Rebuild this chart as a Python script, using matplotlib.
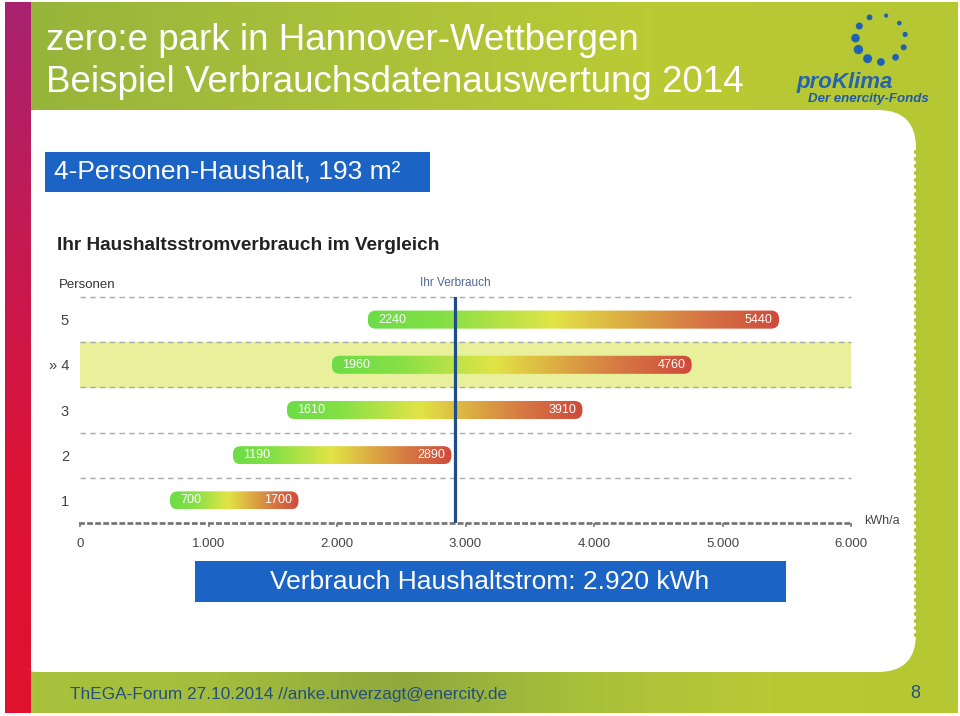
import numpy as np
import matplotlib
matplotlib.use("Agg")
import matplotlib.pyplot as plt
from matplotlib.colors import LinearSegmentedColormap
from matplotlib.patches import FancyBboxPatch, Rectangle, Circle

plt.rcParams['font.family'] = ['Liberation Sans', 'DejaVu Sans']

# data
personen = [1, 2, 3, 4, 5]
personen_labels = ['1', '2', '3', '» 4', '5']
verbrauch_min = [700, 1190, 1610, 1960, 2240]
verbrauch_max = [1700, 2890, 3910, 4760, 5440]
ihr_verbrauch = 2920
haushalt_personen = 4
x_ticks = [0, 1000, 2000, 3000, 4000, 5000, 6000]
x_tick_labels = ['0', '1.000', '2.000', '3.000', '4.000', '5.000', '6.000']

W, H = 960, 716
fig = plt.figure(figsize=(W / 100, H / 100), dpi=100, facecolor='white')

# slide background (pixel coordinates)
bg = fig.add_axes([0, 0, 1, 1])
bg.set_xlim(0, W)
bg.set_ylim(H, 0)
bg.axis('off')

green = LinearSegmentedColormap.from_list('g', ['#97b53c', '#a9c03a', '#b9ca34', '#b6c734'])
bg.imshow(np.linspace(0, 1, 256)[None, :], cmap=green, extent=(30, 958, 713, 2), aspect='auto', zorder=0)
foot = LinearSegmentedColormap.from_list('f', ['#a9c23c', '#a4bd3c', '#8fa93d', '#a9c03a', '#b8c935', '#b6c734'])
bg.imshow(np.linspace(0, 1, 256)[None, :], cmap=foot, extent=(30, 958, 713, 672), aspect='auto', zorder=1)

bg.add_patch(FancyBboxPatch((0, 110), 916, 562, boxstyle='round,pad=0,rounding_size=38',
                            fc='white', ec='none', zorder=2))
# stamp edge
for yy in np.arange(152, 640, 7):
    bg.add_patch(Circle((916, yy), 2.2, fc='#b3c53a', ec='none', zorder=3))

red = LinearSegmentedColormap.from_list('r', ['#a8226f', '#c41a52', '#dc1236', '#e0122e'])
bg.imshow(np.linspace(0, 1, 256)[:, None], cmap=red, extent=(5, 31, 713, 2), aspect='auto', zorder=4)

# title
bg.text(46, 41, 'zero:e park in Hannover-Wettbergen', color='white', fontsize=26.5, va='center', zorder=5)
bg.text(46, 83, 'Beispiel Verbrauchsdatenauswertung 2014', color='white', fontsize=26.5, va='center', zorder=5)

# logo
ang = np.deg2rad([77, 41, 10, -22, -53, -89, -121, -152, 179, 148, 116])
size = [2.1, 2.3, 2.6, 3.0, 3.4, 3.9, 4.5, 4.7, 4.3, 3.5, 2.9]
for a, s in zip(ang, size):
    bg.add_patch(Circle((880.5 + 25 * np.cos(a), 38.5 - 23.5 * np.sin(a)), s, fc='#1f62b5', ec='none', zorder=5))
bg.text(796, 88, 'proKlima', color='#2563ae', fontsize=16, fontweight='bold', style='italic',
        va='baseline', zorder=5)
bg.text(808, 102, 'Der enercity-Fonds', color='#1f5aa8', fontsize=9.5, fontweight='bold', style='italic',
        va='baseline', zorder=5)

# blue info boxes
bg.add_patch(Rectangle((45, 152), 385, 40, fc='#1c63c6', ec='none', zorder=5))
bg.text(54, 172, '4-Personen-Haushalt, 193 m²', color='white', fontsize=19, va='center', zorder=6)
bg.add_patch(Rectangle((195, 561), 591, 41, fc='#1c63c6', ec='none', zorder=5))
bg.text(490, 582, 'Verbrauch Haushaltstrom: %s kWh' % f'{ihr_verbrauch:,}'.replace(',', '.'),
        color='white', fontsize=19, ha='center', va='center', zorder=6)

# chart headings
bg.text(57, 246, 'Ihr Haushaltsstromverbrauch im Vergleich', fontsize=13.7, fontweight='bold',
        color='#222222', va='center', zorder=5)
bg.text(59, 285, 'Personen', fontsize=9.5, color='#333333', va='center', zorder=5)

# footer
bg.text(70, 694, 'ThEGA-Forum 27.10.2014 //anke.unverzagt@enercity.de', fontsize=12.4,
        color='#234f80', va='center', zorder=5)
bg.text(915, 694, '8', fontsize=13, color='#234f80', ha='center', va='center', zorder=5)

# chart
ax = fig.add_axes([80 / W, 1 - 523 / H, 771 / W, 226 / H])
ax.patch.set_alpha(0)

bar_cmap = LinearSegmentedColormap.from_list('bar', [
    (0.0, '#6cdc48'), (0.18, '#84e046'), (0.45, '#e2e446'),
    (0.62, '#dcae42'), (0.8, '#d67844'), (1.0, '#cf4a3c')])

ax.axhspan(haushalt_personen - 0.5, haushalt_personen + 0.5, color='#e9f09b', zorder=0)
for yy in np.arange(1.5, 6, 1):
    ax.axhline(yy, color='#aaaaaa', lw=1, ls=(0, (4, 3)), zorder=1, clip_on=False)

bar_h = 0.4
grad = np.linspace(0, 1, 256)[None, :]
for p, lo, hi in zip(personen, verbrauch_min, verbrauch_max):
    box = FancyBboxPatch((lo, p - bar_h / 2), hi - lo, bar_h,
                         boxstyle='round,pad=0,rounding_size=62', mutation_aspect=0.0029,
                         fc='none', ec='none', zorder=2)
    ax.add_patch(box)
    im = ax.imshow(grad, cmap=bar_cmap, extent=(lo, hi, p - bar_h / 2, p + bar_h / 2),
                   aspect='auto', zorder=2)
    im.set_clip_path(box)
    ax.text(lo + 80, p, str(lo), color='white', fontsize=9, va='center', ha='left', zorder=3)
    ax.text(hi - 50, p, str(hi), color='white', fontsize=9, va='center', ha='right', zorder=3)

ax.axvline(ihr_verbrauch, ymin=0, ymax=1, color='#1f4d8a', lw=2.3, zorder=4)
ax.text(ihr_verbrauch, 5.81, 'Ihr Verbrauch', color='#4d6890', fontsize=8.5, ha='center',
        va='center', clip_on=False)

ax.set_xlim(0, 6000)
ax.set_ylim(0.5, 5.5)
ax.set_xticks(x_ticks)
ax.set_xticklabels(x_tick_labels, fontsize=9.5, color='#444444')
ax.set_yticks(personen)
ax.set_yticklabels(personen_labels, fontsize=10.5, color='#444444')
ax.tick_params(axis='y', length=0, pad=8)
ax.tick_params(axis='x', length=3, width=1.2, color='#777777', pad=8)
for s in ['top', 'right', 'left']:
    ax.spines[s].set_visible(False)
ax.spines['bottom'].set_color('#777777')
ax.spines['bottom'].set_linewidth(2)
ax.spines['bottom'].set_linestyle((0, (1.1, 1.8)))
ax.text(6000 + 240, 0.55, 'kWh/a', fontsize=9, color='#444444', ha='center', va='center',
        clip_on=False)

fig.savefig('out.png', dpi=100, facecolor='white')
